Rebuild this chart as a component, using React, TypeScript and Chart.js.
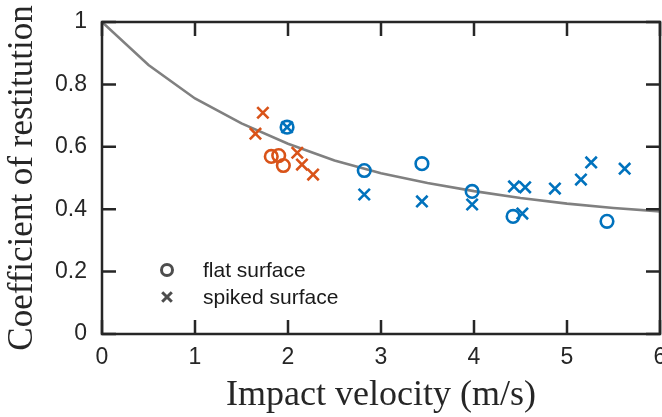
import React, { useEffect, useRef } from "react";
import { Chart, registerables } from "chart.js";

Chart.register(...registerables);

// Fitted model curve
const curveX = [0, 0.5, 1, 1.5, 2, 2.5, 3, 3.5, 4, 4.5, 5, 5.5, 6];
const curveY = [1, 0.862, 0.755, 0.675, 0.61, 0.556, 0.515, 0.484, 0.458, 0.436, 0.418, 0.404, 0.393];

// Orange series (low velocity)
const flatLowX = [1.82, 1.9, 1.95];
const flatLowY = [0.569, 0.572, 0.54];
const spikedLowX = [1.73, 1.65, 2.1, 2.15, 2.27];
const spikedLowY = [0.709, 0.642, 0.581, 0.543, 0.511];

// Blue series (high velocity)
const flatHighX = [1.99, 2.82, 3.44, 3.98, 4.42, 5.43];
const flatHighY = [0.663, 0.524, 0.546, 0.457, 0.377, 0.361];
const spikedHighX = [1.99, 2.82, 3.44, 3.98, 4.43, 4.55, 4.52, 4.87, 5.15, 5.26, 5.62];
const spikedHighY = [0.663, 0.447, 0.425, 0.415, 0.473, 0.47, 0.386, 0.466, 0.495, 0.55, 0.53];

const xTicks = [0, 1, 2, 3, 4, 5, 6];
const yTicks = [0, 0.2, 0.4, 0.6, 0.8, 1];
const legendLabels = ["flat surface", "spiked surface"];

const ORANGE = "#D95319";
const BLUE = "#0072BD";
const AXIS = "#262626";
const TICK_LEN = 14;

const pts = (xs: number[], ys: number[]) => xs.map((x, i) => ({ x, y: ys[i] }));

const framePlugin = {
  id: "frame",
  afterDraw(chart: any) {
    const { ctx, chartArea: a, scales } = chart;
    ctx.save();
    ctx.strokeStyle = AXIS;
    ctx.lineWidth = 2.5;
    ctx.lineCap = "butt";
    ctx.beginPath();
    ctx.rect(a.left, a.top, a.right - a.left, a.bottom - a.top);
    ctx.stroke();
    ctx.beginPath();
    xTicks.forEach((v) => {
      const px = scales.x.getPixelForValue(v);
      ctx.moveTo(px, a.bottom);
      ctx.lineTo(px, a.bottom - TICK_LEN);
      ctx.moveTo(px, a.top);
      ctx.lineTo(px, a.top + TICK_LEN);
    });
    yTicks.forEach((v) => {
      const py = scales.y.getPixelForValue(v);
      ctx.moveTo(a.left, py);
      ctx.lineTo(a.left + TICK_LEN, py);
      ctx.moveTo(a.right, py);
      ctx.lineTo(a.right - TICK_LEN, py);
    });
    ctx.stroke();

    // legend
    const lx = a.left + 65;
    const rows = [a.top + 248, a.top + 275];
    ctx.strokeStyle = "#4d4d4d";
    ctx.lineWidth = 3;
    ctx.beginPath();
    ctx.arc(lx, rows[0], 5.5, 0, Math.PI * 2);
    ctx.stroke();
    ctx.beginPath();
    const c = 4.8;
    ctx.moveTo(lx - c, rows[1] - c);
    ctx.lineTo(lx + c, rows[1] + c);
    ctx.moveTo(lx + c, rows[1] - c);
    ctx.lineTo(lx - c, rows[1] + c);
    ctx.stroke();
    ctx.fillStyle = "#1a1a1a";
    ctx.font = "21px 'Liberation Sans', Arial, sans-serif";
    ctx.textBaseline = "middle";
    ctx.textAlign = "left";
    legendLabels.forEach((t, i) => ctx.fillText(t, lx + 36, rows[i] + 1));
    ctx.restore();
  },
};

export default function App() {
  const ref = useRef<HTMLCanvasElement>(null);
  useEffect(() => {
    if (!ref.current) return;
    const tickFont = { family: "'Liberation Sans', Arial, sans-serif", size: 23 };
    const serif = "'Liberation Serif', 'Times New Roman', serif";
    const chart = new Chart(ref.current, {
      type: "scatter",
      data: {
        datasets: [
          {
            type: "line",
            data: pts(curveX, curveY),
            borderColor: "#808080",
            borderWidth: 2.6,
            pointRadius: 0,
            tension: 0,
            fill: false,
            order: 5,
          } as any,
          {
            data: pts(flatLowX, flatLowY),
            pointStyle: "circle",
            pointRadius: 6.3,
            borderWidth: 2.6,
            borderColor: ORANGE,
            backgroundColor: "rgba(0,0,0,0)",
            order: 1,
          },
          {
            data: pts(spikedLowX, spikedLowY),
            pointStyle: "crossRot",
            pointRadius: 8,
            borderWidth: 2.6,
            borderColor: ORANGE,
            backgroundColor: ORANGE,
            order: 1,
          },
          {
            data: pts(flatHighX, flatHighY),
            pointStyle: "circle",
            pointRadius: 6.3,
            borderWidth: 2.6,
            borderColor: BLUE,
            backgroundColor: "rgba(0,0,0,0)",
            order: 1,
          },
          {
            data: pts(spikedHighX, spikedHighY),
            pointStyle: "crossRot",
            pointRadius: 8,
            borderWidth: 2.6,
            borderColor: BLUE,
            backgroundColor: BLUE,
            order: 1,
          },
        ],
      },
      options: {
        animation: false,
        responsive: false,
        maintainAspectRatio: false,
        layout: { autoPadding: false, padding: { top: 22, right: 2, left: 0, bottom: 0 } },
        plugins: { legend: { display: false }, tooltip: { enabled: false } },
        scales: {
          x: {
            type: "linear",
            min: 0,
            max: 6,
            grid: { display: false, drawTicks: false },
            border: { display: false },
            afterBuildTicks: (s: any) => {
              s.ticks = xTicks.map((v) => ({ value: v }));
            },
            afterFit: (s: any) => {
              s.height = 83;
              s.paddingLeft = 0;
              s.paddingRight = 0;
            },
            ticks: { color: AXIS, font: tickFont, padding: 10, maxRotation: 0 },
            title: {
              display: true,
              text: "Impact velocity (m/s)",
              color: AXIS,
              font: { family: serif, size: 36 },
              padding: { top: 0, bottom: 0 },
            },
          },
          y: {
            type: "linear",
            min: 0,
            max: 1,
            grid: { display: false, drawTicks: false },
            border: { display: false },
            afterBuildTicks: (s: any) => {
              s.ticks = yTicks.map((v) => ({ value: v }));
            },
            afterFit: (s: any) => {
              s.width = 102;
              s.paddingTop = 0;
              s.paddingBottom = 0;
            },
            ticks: {
              color: AXIS,
              font: tickFont,
              padding: 15,
              callback: (v: any) => String(Math.round(Number(v) * 10) / 10),
            },
            title: {
              display: true,
              text: "Coefficient of restitution",
              color: AXIS,
              font: { family: serif, size: 35 },
              padding: { top: 2, bottom: 0 },
            },
          },
        },
      },
      plugins: [framePlugin],
    });
    return () => chart.destroy();
  }, []);
  return (
    <div style={{ position: "fixed", left: 0, top: 0, width: 662, height: 417, background: "#fff" }}>
      <canvas ref={ref} width={662} height={417} style={{ width: 662, height: 417, display: "block" }} />
    </div>
  );
}
